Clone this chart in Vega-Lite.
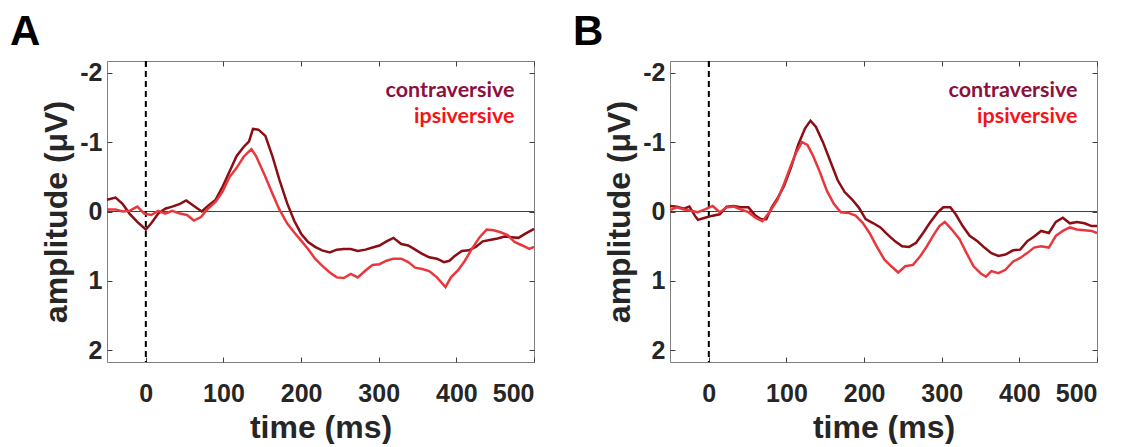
{
  "$schema": "https://vega.github.io/schema/vega-lite/v6.json",
  "padding": {"left": 9, "top": 10, "right": 0, "bottom": 0},
  "spacing": 136,
  "bounds": "flush",
  "config": {
    "view": {"stroke": "#808080", "strokeWidth": 1},
    "font": "Liberation Sans",
    "axis": {
      "labelFont": "Liberation Sans", "labelFontSize": 25, "labelFontWeight": "bold", "labelColor": "#262626",
      "titleFont": "Liberation Sans", "titleFontSize": 32, "titleFontWeight": "bold", "titleColor": "#262626",
      "domain": false, "grid": false, "tickColor": "#404040", "tickSize": -5, "tickWidth": 1
    },
    "legend": {
      "orient": "top-right", "offset": 19, "symbolSize": 0, "symbolStrokeWidth": 0, "symbolOpacity": 0,
      "labelFont": "Lato", "labelFontSize": 21.5, "labelFontWeight": "bold", "labelAlign": "right",
      "labelOffset": 0, "rowPadding": 3, "padding": 0, "labelLimit": 400
    }
  },
  "resolve": {"legend": {"color": "independent"}},
  "datasets": {
    "erp": [
      {"p":"A","c":"contraversive","t":-50,"a":-0.17},{"p":"A","c":"contraversive","t":-39,"a":-0.2},{"p":"A","c":"contraversive","t":-30,"a":-0.11},{"p":"A","c":"contraversive","t":-21,"a":0.03},{"p":"A","c":"contraversive","t":-11,"a":0.15},{"p":"A","c":"contraversive","t":0,"a":0.26},{"p":"A","c":"contraversive","t":7,"a":0.17},{"p":"A","c":"contraversive","t":16,"a":0.03},{"p":"A","c":"contraversive","t":25,"a":-0.04},{"p":"A","c":"contraversive","t":34,"a":-0.07},{"p":"A","c":"contraversive","t":44,"a":-0.11},{"p":"A","c":"contraversive","t":52,"a":-0.16},{"p":"A","c":"contraversive","t":62,"a":-0.08},{"p":"A","c":"contraversive","t":72,"a":0.0},{"p":"A","c":"contraversive","t":80,"a":-0.08},{"p":"A","c":"contraversive","t":90,"a":-0.17},{"p":"A","c":"contraversive","t":99,"a":-0.36},{"p":"A","c":"contraversive","t":108,"a":-0.58},{"p":"A","c":"contraversive","t":117,"a":-0.8},{"p":"A","c":"contraversive","t":126,"a":-0.93},{"p":"A","c":"contraversive","t":133,"a":-1.01},{"p":"A","c":"contraversive","t":138,"a":-1.19},{"p":"A","c":"contraversive","t":145,"a":-1.18},{"p":"A","c":"contraversive","t":154,"a":-1.09},{"p":"A","c":"contraversive","t":163,"a":-0.8},{"p":"A","c":"contraversive","t":172,"a":-0.46},{"p":"A","c":"contraversive","t":182,"a":-0.12},{"p":"A","c":"contraversive","t":191,"a":0.13},{"p":"A","c":"contraversive","t":200,"a":0.32},{"p":"A","c":"contraversive","t":209,"a":0.44},{"p":"A","c":"contraversive","t":218,"a":0.51},{"p":"A","c":"contraversive","t":227,"a":0.56},{"p":"A","c":"contraversive","t":237,"a":0.59},{"p":"A","c":"contraversive","t":246,"a":0.55},{"p":"A","c":"contraversive","t":255,"a":0.54},{"p":"A","c":"contraversive","t":264,"a":0.54},{"p":"A","c":"contraversive","t":273,"a":0.57},{"p":"A","c":"contraversive","t":283,"a":0.55},{"p":"A","c":"contraversive","t":292,"a":0.52},{"p":"A","c":"contraversive","t":301,"a":0.49},{"p":"A","c":"contraversive","t":310,"a":0.43},{"p":"A","c":"contraversive","t":319,"a":0.38},{"p":"A","c":"contraversive","t":329,"a":0.47},{"p":"A","c":"contraversive","t":338,"a":0.49},{"p":"A","c":"contraversive","t":347,"a":0.55},{"p":"A","c":"contraversive","t":356,"a":0.61},{"p":"A","c":"contraversive","t":365,"a":0.66},{"p":"A","c":"contraversive","t":375,"a":0.68},{"p":"A","c":"contraversive","t":384,"a":0.73},{"p":"A","c":"contraversive","t":391,"a":0.71},{"p":"A","c":"contraversive","t":398,"a":0.64},{"p":"A","c":"contraversive","t":407,"a":0.57},{"p":"A","c":"contraversive","t":416,"a":0.56},{"p":"A","c":"contraversive","t":425,"a":0.51},{"p":"A","c":"contraversive","t":434,"a":0.43},{"p":"A","c":"contraversive","t":443,"a":0.41},{"p":"A","c":"contraversive","t":453,"a":0.39},{"p":"A","c":"contraversive","t":462,"a":0.36},{"p":"A","c":"contraversive","t":471,"a":0.37},{"p":"A","c":"contraversive","t":480,"a":0.38},{"p":"A","c":"contraversive","t":489,"a":0.32},{"p":"A","c":"contraversive","t":500,"a":0.25},
      {"p":"A","c":"ipsiversive","t":-50,"a":-0.03},{"p":"A","c":"ipsiversive","t":-39,"a":-0.03},{"p":"A","c":"ipsiversive","t":-30,"a":0.0},{"p":"A","c":"ipsiversive","t":-21,"a":-0.01},{"p":"A","c":"ipsiversive","t":-11,"a":-0.07},{"p":"A","c":"ipsiversive","t":-2,"a":0.03},{"p":"A","c":"ipsiversive","t":7,"a":0.05},{"p":"A","c":"ipsiversive","t":16,"a":-0.01},{"p":"A","c":"ipsiversive","t":25,"a":0.03},{"p":"A","c":"ipsiversive","t":34,"a":-0.01},{"p":"A","c":"ipsiversive","t":44,"a":0.03},{"p":"A","c":"ipsiversive","t":53,"a":0.05},{"p":"A","c":"ipsiversive","t":62,"a":0.13},{"p":"A","c":"ipsiversive","t":71,"a":0.08},{"p":"A","c":"ipsiversive","t":80,"a":-0.04},{"p":"A","c":"ipsiversive","t":90,"a":-0.14},{"p":"A","c":"ipsiversive","t":99,"a":-0.29},{"p":"A","c":"ipsiversive","t":108,"a":-0.5},{"p":"A","c":"ipsiversive","t":117,"a":-0.63},{"p":"A","c":"ipsiversive","t":126,"a":-0.79},{"p":"A","c":"ipsiversive","t":136,"a":-0.9},{"p":"A","c":"ipsiversive","t":142,"a":-0.8},{"p":"A","c":"ipsiversive","t":154,"a":-0.5},{"p":"A","c":"ipsiversive","t":163,"a":-0.26},{"p":"A","c":"ipsiversive","t":172,"a":-0.03},{"p":"A","c":"ipsiversive","t":182,"a":0.17},{"p":"A","c":"ipsiversive","t":191,"a":0.3},{"p":"A","c":"ipsiversive","t":200,"a":0.42},{"p":"A","c":"ipsiversive","t":209,"a":0.54},{"p":"A","c":"ipsiversive","t":218,"a":0.68},{"p":"A","c":"ipsiversive","t":227,"a":0.78},{"p":"A","c":"ipsiversive","t":237,"a":0.88},{"p":"A","c":"ipsiversive","t":246,"a":0.95},{"p":"A","c":"ipsiversive","t":255,"a":0.96},{"p":"A","c":"ipsiversive","t":264,"a":0.9},{"p":"A","c":"ipsiversive","t":273,"a":0.95},{"p":"A","c":"ipsiversive","t":283,"a":0.85},{"p":"A","c":"ipsiversive","t":292,"a":0.77},{"p":"A","c":"ipsiversive","t":301,"a":0.76},{"p":"A","c":"ipsiversive","t":310,"a":0.71},{"p":"A","c":"ipsiversive","t":319,"a":0.68},{"p":"A","c":"ipsiversive","t":329,"a":0.68},{"p":"A","c":"ipsiversive","t":338,"a":0.73},{"p":"A","c":"ipsiversive","t":347,"a":0.81},{"p":"A","c":"ipsiversive","t":356,"a":0.83},{"p":"A","c":"ipsiversive","t":365,"a":0.86},{"p":"A","c":"ipsiversive","t":375,"a":0.95},{"p":"A","c":"ipsiversive","t":386,"a":1.09},{"p":"A","c":"ipsiversive","t":393,"a":0.95},{"p":"A","c":"ipsiversive","t":402,"a":0.85},{"p":"A","c":"ipsiversive","t":411,"a":0.71},{"p":"A","c":"ipsiversive","t":420,"a":0.54},{"p":"A","c":"ipsiversive","t":430,"a":0.37},{"p":"A","c":"ipsiversive","t":439,"a":0.26},{"p":"A","c":"ipsiversive","t":448,"a":0.27},{"p":"A","c":"ipsiversive","t":457,"a":0.3},{"p":"A","c":"ipsiversive","t":466,"a":0.34},{"p":"A","c":"ipsiversive","t":475,"a":0.44},{"p":"A","c":"ipsiversive","t":485,"a":0.49},{"p":"A","c":"ipsiversive","t":494,"a":0.54},{"p":"A","c":"ipsiversive","t":500,"a":0.51},
      {"p":"B","c":"contraversive","t":-50,"a":-0.08},{"p":"B","c":"contraversive","t":-41,"a":-0.07},{"p":"B","c":"contraversive","t":-32,"a":-0.04},{"p":"B","c":"contraversive","t":-25,"a":-0.07},{"p":"B","c":"contraversive","t":-18,"a":0.06},{"p":"B","c":"contraversive","t":-14,"a":0.12},{"p":"B","c":"contraversive","t":-5,"a":0.09},{"p":"B","c":"contraversive","t":5,"a":0.06},{"p":"B","c":"contraversive","t":14,"a":0.04},{"p":"B","c":"contraversive","t":23,"a":-0.07},{"p":"B","c":"contraversive","t":32,"a":-0.08},{"p":"B","c":"contraversive","t":41,"a":-0.06},{"p":"B","c":"contraversive","t":51,"a":-0.06},{"p":"B","c":"contraversive","t":60,"a":0.06},{"p":"B","c":"contraversive","t":67,"a":0.11},{"p":"B","c":"contraversive","t":74,"a":0.11},{"p":"B","c":"contraversive","t":81,"a":-0.06},{"p":"B","c":"contraversive","t":88,"a":-0.18},{"p":"B","c":"contraversive","t":97,"a":-0.37},{"p":"B","c":"contraversive","t":106,"a":-0.64},{"p":"B","c":"contraversive","t":115,"a":-0.96},{"p":"B","c":"contraversive","t":124,"a":-1.2},{"p":"B","c":"contraversive","t":131,"a":-1.31},{"p":"B","c":"contraversive","t":138,"a":-1.22},{"p":"B","c":"contraversive","t":147,"a":-1.0},{"p":"B","c":"contraversive","t":157,"a":-0.71},{"p":"B","c":"contraversive","t":166,"a":-0.45},{"p":"B","c":"contraversive","t":175,"a":-0.28},{"p":"B","c":"contraversive","t":184,"a":-0.18},{"p":"B","c":"contraversive","t":193,"a":-0.06},{"p":"B","c":"contraversive","t":202,"a":0.11},{"p":"B","c":"contraversive","t":212,"a":0.17},{"p":"B","c":"contraversive","t":221,"a":0.23},{"p":"B","c":"contraversive","t":230,"a":0.33},{"p":"B","c":"contraversive","t":240,"a":0.43},{"p":"B","c":"contraversive","t":249,"a":0.5},{"p":"B","c":"contraversive","t":258,"a":0.51},{"p":"B","c":"contraversive","t":267,"a":0.45},{"p":"B","c":"contraversive","t":276,"a":0.31},{"p":"B","c":"contraversive","t":285,"a":0.16},{"p":"B","c":"contraversive","t":295,"a":0.01},{"p":"B","c":"contraversive","t":302,"a":-0.06},{"p":"B","c":"contraversive","t":311,"a":-0.06},{"p":"B","c":"contraversive","t":318,"a":0.04},{"p":"B","c":"contraversive","t":327,"a":0.21},{"p":"B","c":"contraversive","t":336,"a":0.35},{"p":"B","c":"contraversive","t":346,"a":0.43},{"p":"B","c":"contraversive","t":355,"a":0.52},{"p":"B","c":"contraversive","t":364,"a":0.6},{"p":"B","c":"contraversive","t":373,"a":0.64},{"p":"B","c":"contraversive","t":382,"a":0.62},{"p":"B","c":"contraversive","t":392,"a":0.56},{"p":"B","c":"contraversive","t":401,"a":0.55},{"p":"B","c":"contraversive","t":410,"a":0.43},{"p":"B","c":"contraversive","t":419,"a":0.36},{"p":"B","c":"contraversive","t":428,"a":0.28},{"p":"B","c":"contraversive","t":438,"a":0.31},{"p":"B","c":"contraversive","t":447,"a":0.15},{"p":"B","c":"contraversive","t":456,"a":0.09},{"p":"B","c":"contraversive","t":465,"a":0.17},{"p":"B","c":"contraversive","t":474,"a":0.15},{"p":"B","c":"contraversive","t":484,"a":0.17},{"p":"B","c":"contraversive","t":493,"a":0.21},{"p":"B","c":"contraversive","t":500,"a":0.21},
      {"p":"B","c":"ipsiversive","t":-50,"a":-0.02},{"p":"B","c":"ipsiversive","t":-41,"a":-0.06},{"p":"B","c":"ipsiversive","t":-32,"a":-0.03},{"p":"B","c":"ipsiversive","t":-23,"a":-0.01},{"p":"B","c":"ipsiversive","t":-14,"a":0.01},{"p":"B","c":"ipsiversive","t":-5,"a":-0.03},{"p":"B","c":"ipsiversive","t":5,"a":-0.08},{"p":"B","c":"ipsiversive","t":14,"a":0.01},{"p":"B","c":"ipsiversive","t":23,"a":-0.06},{"p":"B","c":"ipsiversive","t":32,"a":-0.07},{"p":"B","c":"ipsiversive","t":41,"a":-0.03},{"p":"B","c":"ipsiversive","t":51,"a":0.01},{"p":"B","c":"ipsiversive","t":60,"a":0.09},{"p":"B","c":"ipsiversive","t":69,"a":0.14},{"p":"B","c":"ipsiversive","t":78,"a":0.01},{"p":"B","c":"ipsiversive","t":88,"a":-0.16},{"p":"B","c":"ipsiversive","t":97,"a":-0.4},{"p":"B","c":"ipsiversive","t":106,"a":-0.67},{"p":"B","c":"ipsiversive","t":113,"a":-0.86},{"p":"B","c":"ipsiversive","t":120,"a":-1.0},{"p":"B","c":"ipsiversive","t":127,"a":-0.96},{"p":"B","c":"ipsiversive","t":134,"a":-0.81},{"p":"B","c":"ipsiversive","t":143,"a":-0.57},{"p":"B","c":"ipsiversive","t":152,"a":-0.3},{"p":"B","c":"ipsiversive","t":161,"a":-0.11},{"p":"B","c":"ipsiversive","t":170,"a":0.01},{"p":"B","c":"ipsiversive","t":180,"a":0.02},{"p":"B","c":"ipsiversive","t":189,"a":0.06},{"p":"B","c":"ipsiversive","t":198,"a":0.16},{"p":"B","c":"ipsiversive","t":207,"a":0.31},{"p":"B","c":"ipsiversive","t":216,"a":0.5},{"p":"B","c":"ipsiversive","t":226,"a":0.69},{"p":"B","c":"ipsiversive","t":235,"a":0.79},{"p":"B","c":"ipsiversive","t":244,"a":0.88},{"p":"B","c":"ipsiversive","t":253,"a":0.79},{"p":"B","c":"ipsiversive","t":263,"a":0.77},{"p":"B","c":"ipsiversive","t":272,"a":0.65},{"p":"B","c":"ipsiversive","t":281,"a":0.5},{"p":"B","c":"ipsiversive","t":290,"a":0.33},{"p":"B","c":"ipsiversive","t":297,"a":0.21},{"p":"B","c":"ipsiversive","t":304,"a":0.15},{"p":"B","c":"ipsiversive","t":313,"a":0.26},{"p":"B","c":"ipsiversive","t":323,"a":0.4},{"p":"B","c":"ipsiversive","t":332,"a":0.6},{"p":"B","c":"ipsiversive","t":341,"a":0.79},{"p":"B","c":"ipsiversive","t":350,"a":0.89},{"p":"B","c":"ipsiversive","t":357,"a":0.94},{"p":"B","c":"ipsiversive","t":364,"a":0.86},{"p":"B","c":"ipsiversive","t":373,"a":0.89},{"p":"B","c":"ipsiversive","t":382,"a":0.84},{"p":"B","c":"ipsiversive","t":392,"a":0.72},{"p":"B","c":"ipsiversive","t":401,"a":0.67},{"p":"B","c":"ipsiversive","t":410,"a":0.6},{"p":"B","c":"ipsiversive","t":419,"a":0.52},{"p":"B","c":"ipsiversive","t":428,"a":0.5},{"p":"B","c":"ipsiversive","t":438,"a":0.52},{"p":"B","c":"ipsiversive","t":447,"a":0.35},{"p":"B","c":"ipsiversive","t":456,"a":0.28},{"p":"B","c":"ipsiversive","t":465,"a":0.23},{"p":"B","c":"ipsiversive","t":474,"a":0.26},{"p":"B","c":"ipsiversive","t":484,"a":0.27},{"p":"B","c":"ipsiversive","t":493,"a":0.28},{"p":"B","c":"ipsiversive","t":500,"a":0.31}
    ]
  },
  "hconcat": [
    {
      "width": 427, "height": 301,
      "title": {"text": "A", "anchor": "start", "frame": "group", "dx": -97, "offset": -27, "fontSize": 42, "fontWeight": "bold", "font": "Liberation Sans", "color": "#000000", "baseline": "alphabetic"},
      "resolve": {"axis": {"x": "independent", "y": "independent"}},
      "layer": [
        {"data": {"values": [{}]}, "mark": {"type": "rule", "color": "#404040", "strokeWidth": 1},
         "encoding": {"y": {"datum": 0, "type": "quantitative", "axis": {"orient": "right", "labels": false, "title": null, "values": [-2, -1, 0, 1, 2]}}}},
        {"data": {"values": [{}]}, "mark": {"type": "rule", "color": "#000000", "strokeWidth": 2, "strokeDash": [6, 4]},
         "encoding": {"x": {"datum": 0, "type": "quantitative", "axis": {"orient": "top", "labels": false, "title": null, "values": [0, 100, 200, 300, 400, 500]}}}},
        {"data": {"name": "erp"}, "transform": [{"filter": "datum.p === 'A'"}],
         "mark": {"type": "line", "strokeWidth": 2.5},
         "encoding": {
           "x": {"field": "t", "type": "quantitative", "scale": {"domain": [-50, 500], "nice": false, "zero": false},
                 "axis": {"orient": "bottom", "values": [0, 100, 200, 300, 400, 500], "title": "time (ms)", "labelPadding": 24, "titlePadding": 6}},
           "y": {"field": "a", "type": "quantitative", "scale": {"domain": [-2.17, 2.17], "reverse": true, "nice": false, "zero": false},
                 "axis": {"orient": "left", "values": [-2, -1, 0, 1, 2], "labelExpr": "datum.value < 0 ? '-' + abs(datum.value) : datum.label", "title": "amplitude (μV)", "labelPadding": 10, "titlePadding": 6}},
           "color": {"field": "c", "type": "nominal",
                     "scale": {"domain": ["contraversive", "ipsiversive"], "range": ["#8A0E14", "#E8383D"]},
                     "legend": {"title": null, "labelColor": {"expr": "datum.label === 'contraversive' ? '#8C1040' : '#F5141A'"}}}
         }}
      ]
    },
    {
      "width": 427, "height": 301,
      "title": {"text": "B", "anchor": "start", "frame": "group", "dx": -97, "offset": -27, "fontSize": 42, "fontWeight": "bold", "font": "Liberation Sans", "color": "#000000", "baseline": "alphabetic"},
      "resolve": {"axis": {"x": "independent", "y": "independent"}},
      "layer": [
        {"data": {"values": [{}]}, "mark": {"type": "rule", "color": "#404040", "strokeWidth": 1},
         "encoding": {"y": {"datum": 0, "type": "quantitative", "axis": {"orient": "right", "labels": false, "title": null, "values": [-2, -1, 0, 1, 2]}}}},
        {"data": {"values": [{}]}, "mark": {"type": "rule", "color": "#000000", "strokeWidth": 2, "strokeDash": [6, 4]},
         "encoding": {"x": {"datum": 0, "type": "quantitative", "axis": {"orient": "top", "labels": false, "title": null, "values": [0, 100, 200, 300, 400, 500]}}}},
        {"data": {"name": "erp"}, "transform": [{"filter": "datum.p === 'B'"}],
         "mark": {"type": "line", "strokeWidth": 2.5},
         "encoding": {
           "x": {"field": "t", "type": "quantitative", "scale": {"domain": [-50, 500], "nice": false, "zero": false},
                 "axis": {"orient": "bottom", "values": [0, 100, 200, 300, 400, 500], "title": "time (ms)", "labelPadding": 24, "titlePadding": 6}},
           "y": {"field": "a", "type": "quantitative", "scale": {"domain": [-2.17, 2.17], "reverse": true, "nice": false, "zero": false},
                 "axis": {"orient": "left", "values": [-2, -1, 0, 1, 2], "labelExpr": "datum.value < 0 ? '-' + abs(datum.value) : datum.label", "title": "amplitude (μV)", "labelPadding": 10, "titlePadding": 6}},
           "color": {"field": "c", "type": "nominal",
                     "scale": {"domain": ["contraversive", "ipsiversive"], "range": ["#8A0E14", "#E8383D"]},
                     "legend": {"title": null, "labelColor": {"expr": "datum.label === 'contraversive' ? '#8C1040' : '#F5141A'"}}}
         }}
      ]
    }
  ]
}
